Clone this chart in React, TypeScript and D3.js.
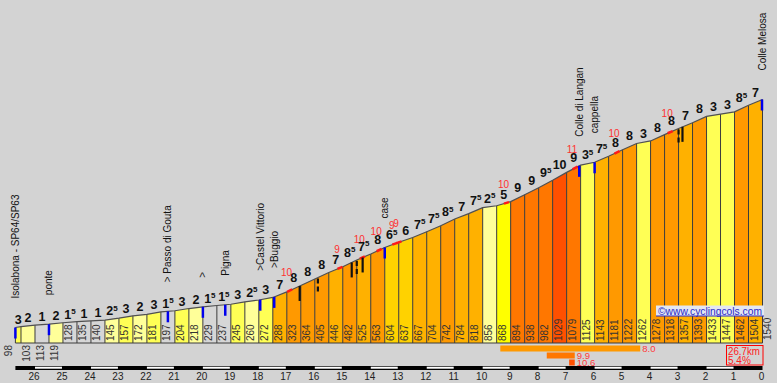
import React from 'react';
import * as d3 from 'd3';

const W = 777;
const H = 383;

// distance to summit (km) for each profile point
const distances = [26.7, 26.5, 26.0, 25.5, 25.0, 24.5, 24.0, 23.5, 23.0, 22.5, 22.0, 21.5, 21.0, 20.5, 20.0, 19.5, 19.0, 18.5, 18.0, 17.5, 17.0, 16.5, 16.0, 15.5, 15.0, 14.5, 14.0, 13.5, 13.0, 12.5, 12.0, 11.5, 11.0, 10.5, 10.0, 9.5, 9.0, 8.5, 8.0, 7.5, 7.0, 6.5, 6.0, 5.5, 5.0, 4.5, 4.0, 3.5, 3.0, 2.5, 2.0, 1.5, 1.0, 0.5, 0];
// elevation (m) at each point
const elevations = [98, 103, 113, 119, 128, 135, 140, 145, 157, 172, 181, 197, 204, 218, 229, 237, 245, 260, 272, 288, 323, 364, 405, 446, 482, 525, 563, 604, 637, 667, 704, 742, 784, 818, 856, 868, 894, 938, 982, 1029, 1079, 1125, 1143, 1181, 1222, 1262, 1278, 1318, 1357, 1393, 1433, 1447, 1462, 1504, 1540];
// gradient label of each segment (%)
const gradeLabels = [3, 2, 1, 2, 1.5, 1, 1, 2.5, 3, 2, 3, 1.5, 3, 2, 1.5, 1.5, 3, 2.5, 3, 7, 8, 8, 8, 7, 8.5, 7.5, 8, 6.5, 6, 7.5, 7.5, 8.5, 7, 7.5, 2.5, 5, 9, 9, 9.5, 10, 9, 3.5, 7.5, 8, 8, 3, 8, 8, 7, 8, 3, 3, 8.5, 7];

// places along the road
const placeKm = [26.7, 25.5, 21.25, 20.0, 19.2, 17.95, 17.45, 13.5, 6.55, 6.0, 0];
const placeNames = ['Isolabona - SP64/SP63', 'ponte', '> Passo di Gouta', '>', 'Pigna', '>Castel Vittorio', '>Buggio', 'case', 'Colle di Langan', 'cappella', 'Colle Melosa'];

// steepest 100 m pieces
const steepKm = [16.9, 15.1, 14.3, 13.7, 13.14, 12.99, 9.15, 6.7, 5.2, 3.3];
const steepValues = ['10', '9', '10', '10', '9', '9', '10', '11', '10', '10'];

// hairpin / tunnel marks
const solidMarkKm = [16.54, 14.68, 14.29, 2.86];
const dashedMarkKm = [15.89, 14.5, 3.0];

// km axis
const kmTicks = [26, 25, 24, 23, 22, 21, 20, 19, 18, 17, 16, 15, 14, 13, 12, 11, 10, 9, 8, 7, 6, 5, 4, 3, 2, 1, 0];

// steepest sections summary
const bestFromKm = [9.37, 7.71, 6.91];
const bestLenKm = [5, 1, 0.2];
const bestValues = [8.0, 9.9, 10.6];

const totalKm = '26.7km';
const avgGrade = '5.4%';

const FONT = 'Liberation Sans, Arial, sans-serif';

function gradeColor(g: number): string {
  if (g < 1.75) return '#d6d6d6';
  if (g < 2.75) return '#ffff99';
  if (g < 4) return '#ffff55';
  if (g < 5.75) return '#ffff00';
  if (g < 6.75) return '#ffd200';
  if (g < 7.75) return '#ffb100';
  if (g < 8.75) return '#ff9900';
  if (g < 9.95) return '#ff7700';
  return '#ff5000';
}

export default function App() {
  const x = d3.scaleLinear().domain([26.7, 0]).range([15.4, 762.5]);
  const y = d3.scaleLinear().domain([0, 1540]).range([343, 99.5]);
  const elevAt = d3.scaleLinear().domain(distances).range(elevations);
  const base = y(0);
  const profileY = (km: number) => y(elevAt(km));

  const line = d3.line<number>().x((_, i) => x(distances[i])).y((e) => y(e));

  const segs = gradeLabels.map((g, i) => ({
    g,
    x0: x(distances[i]),
    x1: x(distances[i + 1]),
    y0: y(elevations[i]),
    y1: y(elevations[i + 1]),
  }));

  return (
    <svg width={W} height={H} style={{ position: 'absolute', left: 0, top: 0 }} fontFamily={FONT}>
      <rect x={0} y={0} width={W} height={H} fill="#d3d3d3" />

      {/* bars */}
      {segs.map((s, i) => (
        <path
          key={'b' + i}
          d={`M${s.x0},${base}L${s.x0},${s.y0}L${s.x1},${s.y1}L${s.x1},${base}Z`}
          fill={gradeColor(s.g)}
        />
      ))}
      {distances.map((d, i) => (
        <line key={'v' + i} x1={x(d)} x2={x(d)} y1={base} y2={y(elevations[i])} stroke="#3c3c3c" strokeWidth={1} />
      ))}
      <line x1={x(26.7)} x2={x(0)} y1={base} y2={base} stroke="#3c3c3c" strokeWidth={1} />
      <path d={line(elevations) || ''} fill="none" stroke="#505050" strokeWidth={1.2} />

      {/* steep marks on the profile */}
      {steepKm.map((k, i) => (
        <line key={'sm' + i} x1={x(k + 0.09)} x2={x(k - 0.09)} y1={profileY(k + 0.09)} y2={profileY(k - 0.09)} stroke="#ff1a1a" strokeWidth={2.5} />
      ))}
      {steepKm.map((k, i) => (
        <text key={'sl' + i} x={x(k) - 3} y={profileY(k) - 15} fontSize={10} fill="#ff3030" textAnchor="middle">
          {steepValues[i]}
        </text>
      ))}

      {/* blue place marks */}
      {placeKm.map((k, i) => (
        <line key={'bm' + i} x1={Math.min(x(k), 762)} x2={Math.min(x(k), 762)} y1={profileY(k)} y2={profileY(k) + 11} stroke="#0000ee" strokeWidth={2.5} />
      ))}
      {solidMarkKm.map((k, i) => (
        <line key={'sk' + i} x1={x(k)} x2={x(k)} y1={profileY(k)} y2={profileY(k) + 15} stroke="#111" strokeWidth={2.2} />
      ))}
      {dashedMarkKm.map((k, i) => (
        <line key={'dk' + i} x1={x(k)} x2={x(k)} y1={profileY(k) + 1} y2={profileY(k) + 14} stroke="#111" strokeWidth={2.2} strokeDasharray="5,3" />
      ))}

      {/* place names */}
      {placeKm.map((k, i) => (
        <text key={'pn' + i} transform={`translate(${Math.min(x(k), 762) + 3.5},${profileY(k) - 29}) rotate(-90)`} fontSize={10} fill="#111">
          {placeNames[i]}
        </text>
      ))}

      {/* gradient labels */}
      {segs.map((s, i) => {
        const whole = Math.floor(s.g);
        const half = s.g % 1 !== 0;
        return (
          <text key={'g' + i} x={(s.x0 + s.x1) / 2} y={Math.min(s.y0, s.y1) - 3} fontSize={12.5} fontWeight="bold" fill="#111" textAnchor="middle">
            {whole}
            {half && <tspan fontSize={8} dy={-4.5}>5</tspan>}
          </text>
        );
      })}

      {/* elevation labels */}
      {elevations.map((e, i) => {
        const xi = x(distances[i]);
        const h = base - y(e);
        if (i === elevations.length - 1) {
          return (
            <text key={'e' + i} transform={`translate(${xi + 8},340) rotate(-90)`} fontSize={10} fill="#333">{e}</text>
          );
        }
        if (h >= 20) {
          return (
            <text key={'e' + i} transform={`translate(${xi + 9},341) rotate(-90)`} fontSize={10} fill="#333">{e}</text>
          );
        }
        const px = i === 0 ? xi - 3 : xi + 9;
        return (
          <text key={'e' + i} transform={`translate(${px},345) rotate(-90)`} fontSize={10} fill="#333" textAnchor="end">{e}</text>
        );
      })}

      {/* watermark */}
      <rect x={656} y={305.5} width={108} height={10.5} fill="#e3e7f2" />
      <text x={658} y={314.5} fontSize={10.5} fill="#2a2ac8" textLength={104} lengthAdjust="spacingAndGlyphs">©www.cyclingcols.com</text>
      <line x1={656} x2={764} y1={316} y2={316} stroke="#2a2ac8" strokeWidth={1} />

      {/* steepest sections */}
      {bestFromKm.map((k, i) => {
        const x0 = x(k);
        const x1 = x(k - bestLenKm[i]);
        const yy = 345.5 + i * 7;
        return (
          <g key={'best' + i}>
            <rect x={x0} y={yy} width={x1 - x0} height={6} fill={gradeColor(bestValues[i])} />
            <text x={x1 + 2} y={yy + 6} fontSize={9.5} fill="#ff3a3a">{bestValues[i].toFixed(1)}</text>
          </g>
        );
      })}

      {/* totals box */}
      <rect x={726.5} y={345.5} width={36.5} height={19.5} fill="none" stroke="#ff0000" strokeWidth={1} />
      <text x={728} y={354.5} fontSize={10} fill="#ff2020" textLength={32} lengthAdjust="spacingAndGlyphs">{totalKm}</text>
      <text x={728} y={363.5} fontSize={10} fill="#ff2020">{avgGrade}</text>

      {/* km axis */}
      <rect x={x(26.7)} y={366} width={x(0) - x(26.7)} height={4} fill="#000" />
      {kmTicks.filter((k) => k % 2 === 0 && k > 0).map((k) => (
        <rect key={'w' + k} x={x(k)} y={366.7} width={x(k - 1) - x(k) - 1} height={2} fill="#fff" />
      ))}
      {kmTicks.map((k) => (
        <text key={'k' + k} x={x(k) - 1} y={380} fontSize={10} fill="#222" textAnchor="middle">{k}</text>
      ))}
    </svg>
  );
}
